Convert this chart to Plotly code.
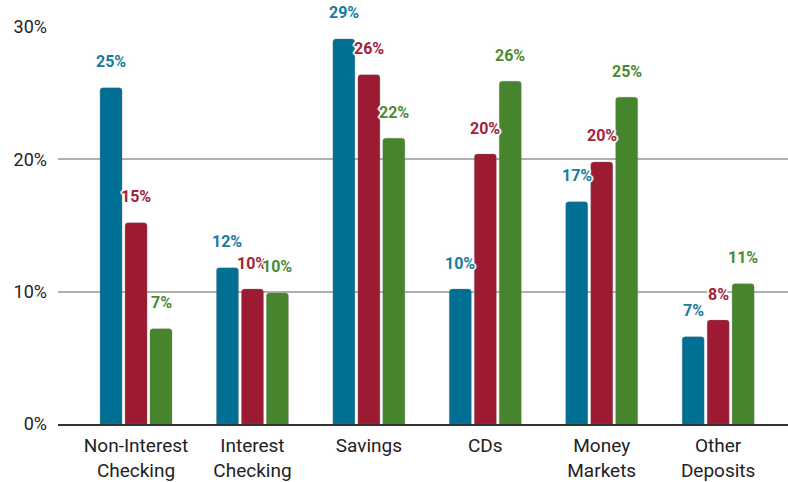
import plotly.graph_objects as go

categories = ["Non-Interest<br>Checking", "Interest<br>Checking", "Savings", "CDs",
              "Money<br>Markets", "Other<br>Deposits"]
series_a = [25.4, 11.8, 29.1, 10.2, 16.8, 6.6]
series_b = [15.2, 10.2, 26.4, 20.4, 19.8, 7.85]
series_c = [7.2, 9.9, 21.6, 25.9, 24.7, 10.6]
y_ticks = [0, 10, 20, 30]
y_tick_labels = ["0%", "10%", "20%", "30%"]

colors = ["#006f94", "#9c1a32", "#46842e"]
label_colors = ["#157ca0", "#a3223a", "#4a8a33"]
offsets = [-0.309, -0.094, 0.120]
xshifts = [-25, 0, 25]
width = 0.189

fig = go.Figure()
halo = ("white 1px 1px 1px, white -1px -1px 1px, white 1px -1px 1px, white -1px 1px 1px, "
        "white 0px 2px 1px, white 0px -2px 1px, white 2px 0px 1px, white -2px 0px 1px, "
        "rgba(150,150,150,0.45) 0px 0px 3px")
for i, vals in enumerate([series_a, series_b, series_c]):
    fig.add_trace(go.Bar(
        x=list(range(len(categories))), y=vals,
        width=width, offset=offsets[i],
        marker=dict(color=colors[i], line=dict(width=0.6, color="rgba(120,120,120,0.5)")),
        hoverinfo="skip", showlegend=False,
    ))
    for j, v in enumerate(vals):
        fig.add_annotation(
            x=j, y=v, xshift=xshifts[i], yshift=26, yanchor="middle",
            text=f"{round(v)}%", showarrow=False,
            font=dict(family="Roboto", size=16, color=label_colors[i], weight="bold",
                      shadow=halo),
        )

fig.update_layout(
    width=788, height=482,
    margin=dict(l=58, r=0, t=27, b=58, autoexpand=False),
    paper_bgcolor="white", plot_bgcolor="white",
    barcornerradius=3,
    hovermode=False,
    font=dict(family="Roboto", size=18, color="#222222"),
    xaxis=dict(
        tickmode="array", tickvals=list(range(len(categories))), ticktext=categories,
        range=[-0.67, 5.6], showgrid=False, zeroline=False,
        showline=True, linecolor="#333333", linewidth=2,
        ticks="", ticklabelstandoff=3, tickfont=dict(size=19, color="#222222"),
    ),
    yaxis=dict(
        range=[0, 30], tickmode="array", tickvals=y_ticks, ticktext=y_tick_labels,
        showgrid=True, gridcolor="#b0b0b0", gridwidth=2, zeroline=False,
        ticks="", ticklabelstandoff=10, tickfont=dict(size=18, color="#222222"),
    ),
)

fig.write_html(
    "out.html",
    config={"displayModeBar": False},
    post_script="document.body.style.margin='0';document.body.style.overflow='hidden';",
)
